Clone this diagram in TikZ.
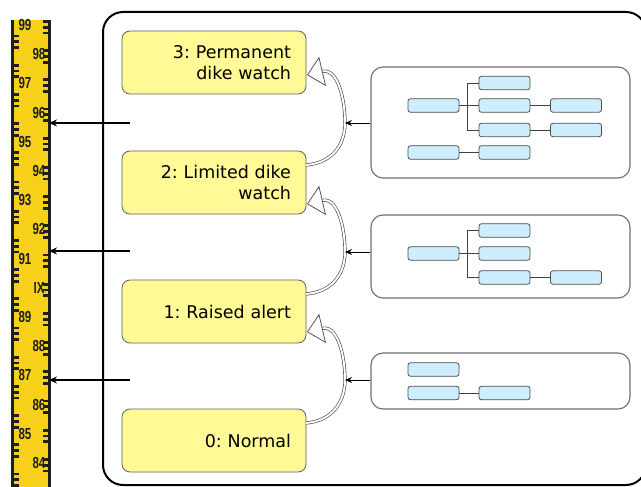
\documentclass[tikz,border=0pt]{standalone}
\usepackage{fontspec}
\setmainfont{DejaVu Sans}
\newfontfamily\rulerfont{Liberation Sans}
\usetikzlibrary{arrows.meta,calc}
\definecolor{boxyellow}{RGB}{255,250,150}
\definecolor{rulery}{RGB}{247,208,25}
\definecolor{lightblue}{RGB}{206,238,253}
\definecolor{bordergray}{RGB}{110,110,110}
\definecolor{inkdark}{RGB}{30,30,30}
\frenchspacing
\begin{document}
\begin{tikzpicture}[x=1pt,y=-1pt,
  level/.style={draw=gray!75!black, line width=0.8pt, fill=boxyellow, rounded corners=8pt,
    minimum width=184pt, minimum height=63pt, text width=154pt, inner xsep=15pt,
    align=right, font=\fontsize{17.5}{21}\selectfont},
  panel/.style={draw=bordergray, line width=1.1pt, rounded corners=12pt, fill=white,
    minimum width=259pt, inner sep=0pt},
  bbox/.style={draw=black!70, line width=0.8pt, fill=lightblue, rounded corners=2.5pt,
    minimum width=51pt, minimum height=13.5pt, inner sep=0pt},
  link/.style={draw=black!75, line width=0.8pt},
  upcurve/.style={draw=gray!60!black, line width=0.65pt, double=white, double distance=1.9pt,
    -{Triangle[open, fill=white, length=16pt, width=30pt, line width=0.75pt]}},
  gaugearrow/.style={draw=black, line width=1.5pt, -{Stealth[length=8pt, width=7pt]}},
  feedarrow/.style={draw=black, line width=0.9pt, -{Stealth[length=7pt, width=6pt]}},
  gaugelabel/.style={font=\rulerfont\bfseries\fontsize{16}{16}\selectfont, text=inkdark,
    inner sep=0pt}
]
\useasboundingbox (0,0) rectangle (641,487);

% ---- ruler (water level gauge) ----
\fill[rulery] (11,20) rectangle (51,487);
\fill[inkdark] (11,20) rectangle (14,487);
\fill[inkdark] (48,20) rectangle (51,487);
\foreach \i in {0,...,16}{
  \foreach \k in {0,1,2}{
    \fill[inkdark] (14,{20+\i*29.2+14.6+\k*5.84}) rectangle ++(4.5,2.8);
    \fill[inkdark] (48,{20+\i*29.2+\k*5.84}) rectangle ++(-5,2.8);
  }
}
\foreach \t [count=\i from 0] in {99,98,97,96,95,94,93,92,91,IX,89,88,87,86,85,84}{
  \pgfmathsetmacro{\xx}{mod(\i,2)==0 ? 25 : 39}
  \node[gaugelabel] (lab\i) at (\xx,{25+\i*29.2}) {\scalebox{0.72}[1]{\t}};
}

% ---- big frame ----
\draw[line width=2pt, rounded corners=20pt] (103,12) rectangle (646,485);

% ---- level boxes ----
\node[level] (L3) at (214,62.5) {3: Permanent\\dike watch};
\node[level] (L2) at (214,182.5) {2: Limited dike\\watch};
\node[level] (L1) at (214,311.5) {1: Raised alert};
\node[level] (L0) at (214,440.5) {0: Normal};

% ---- gauge arrows ----
\coordinate (s3) at (130,123);  \coordinate (g3) at (49,123);
\coordinate (s2) at (130,251);  \coordinate (g2) at (49,251);
\coordinate (s1) at (130,380);  \coordinate (g1) at (49,380);
\draw[gaugearrow] (s3) -- (g3);
\draw[gaugearrow] (s2) -- (g2);
\draw[gaugearrow] (s1) -- (g1);

% ---- curved escalation arrows ----
\coordinate (c3s) at (306,165); \coordinate (m3) at (345,123); \coordinate (c3e) at (307,75);
\coordinate (c2s) at (306,294); \coordinate (m2) at (345,252); \coordinate (c2e) at (307,204);
\coordinate (c1s) at (306,423); \coordinate (m1) at (345,380); \coordinate (c1e) at (307,332);
\draw[upcurve] (c3s) .. controls (332,163) and (345,145) .. (m3) .. controls (345,97) and (337,68) .. (c3e);
\draw[upcurve] (c2s) .. controls (332,292) and (345,274) .. (m2) .. controls (345,226) and (337,197) .. (c2e);
\draw[upcurve] (c1s) .. controls (332,421) and (345,402) .. (m1) .. controls (345,354) and (337,325) .. (c1e);

% ---- panels ----
\node[panel, minimum height=111pt] (pA) at (500.5,122.5) {};
\node[panel, minimum height=83pt] (pB) at (500.5,256.5) {};
\node[panel, minimum height=56pt] (pC) at (500.5,381) {};
\draw[feedarrow] (pA.west |- m3) -- (m3);
\draw[feedarrow] (pB.west |- m2) -- (m2);
\draw[feedarrow] (pC.west |- m1) -- (m1);

% panel A
\node[bbox] (a1) at (433.5,105.5) {};
\node[bbox] (b1) at (504.5,83) {};
\node[bbox] (b2) at (504.5,105.5) {};
\node[bbox] (b3) at (504.5,130) {};
\node[bbox] (c2) at (576,105.5) {};
\node[bbox] (c3) at (576,130) {};
\node[bbox] (d1) at (433.5,152.5) {};
\node[bbox] (d2) at (504.5,152.5) {};
\draw[link] (a1.east) -- (b2.west);
\draw[link] (b1.west) -- ++(-11,0) |- (b3.west);
\draw[link] (b2.east) -- (c2.west);
\draw[link] (b3.east) -- (c3.west);
\draw[link] (d1.east) -- (d2.west);

% panel B
\node[bbox] (pa1) at (433.5,253.5) {};
\node[bbox] (pb1) at (504.5,230.5) {};
\node[bbox] (pb2) at (504.5,253.5) {};
\node[bbox] (pb3) at (504.5,277.5) {};
\node[bbox] (pc3) at (576,277.5) {};
\draw[link] (pa1.east) -- (pb2.west);
\draw[link] (pb1.west) -- ++(-11,0) |- (pb3.west);
\draw[link] (pb3.east) -- (pc3.west);

% panel C
\node[bbox] (e1) at (433.5,369.5) {};
\node[bbox] (e2) at (433.5,393) {};
\node[bbox] (f2) at (504.5,393) {};
\draw[link] (e2.east) -- (f2.west);
\end{tikzpicture}
\end{document}
